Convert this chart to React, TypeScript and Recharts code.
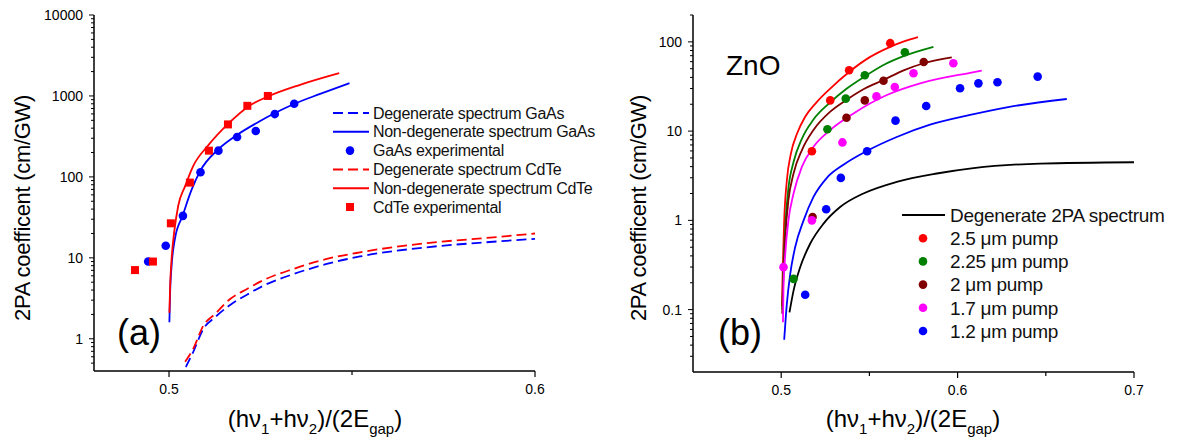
import React from 'react';
import { ComposedChart, Line, Scatter, XAxis, YAxis, Legend } from 'recharts';

type P = [number, number];
const pts = (a: P[]) => a.map(([x, y]) => ({ x, y }));

const FONT = '"Liberation Sans", Arial, Helvetica, sans-serif';

// ---------- Panel (a): GaAs / CdTe ----------
const gaasDegenerate: P[] = [
  [0.5046, 0.448], [0.5066, 0.686], [0.5094, 1.33], [0.5126, 1.85], [0.5167, 2.62],
  [0.5212, 3.48], [0.5258, 4.53], [0.534, 6.3], [0.5431, 8.4], [0.5522, 10.4],
  [0.5704, 13.5], [0.5886, 15.8], [0.6, 17.2],
];
const gaasNonDegenerate: P[] = [
  [0.5001, 1.6], [0.5003, 3.8], [0.5007, 8], [0.5016, 17], [0.5037, 33], [0.5062, 70],
  [0.5085, 118], [0.5135, 220], [0.5185, 328], [0.5249, 490], [0.5288, 610], [0.534, 790],
  [0.5413, 1060], [0.5493, 1440],
];
const gaasExperimental: P[] = [
  [0.4943, 9.0], [0.4991, 14.1], [0.5038, 33], [0.5086, 114], [0.5135, 211],
  [0.5186, 311], [0.5237, 369], [0.5289, 597], [0.5342, 800],
];
const cdteDegenerate: P[] = [
  [0.5044, 0.52], [0.5066, 0.75], [0.5094, 1.46], [0.5126, 2.03], [0.5167, 3.1],
  [0.5212, 4.1], [0.5258, 5.3], [0.534, 7.3], [0.5431, 9.7], [0.5522, 11.7],
  [0.5704, 15.2], [0.5886, 17.9], [0.6, 20],
];
const cdteNonDegenerate: P[] = [
  [0.5001, 2.1], [0.5003, 4.5], [0.5007, 9.7], [0.5014, 20.6], [0.5025, 43.7], [0.5044, 77],
  [0.5066, 136], [0.5107, 245], [0.5162, 455], [0.5217, 743], [0.5271, 987], [0.5358, 1374],
  [0.5465, 1915],
];
const cdteExperimental: P[] = [
  [0.4907, 7.06], [0.4956, 9.0], [0.5005, 26.7], [0.5057, 85], [0.5109, 211],
  [0.5161, 445], [0.5214, 755], [0.527, 1000],
];

// ---------- Panel (b): ZnO ----------
const znoDegenerate: P[] = [
  [0.5047, 0.093], [0.507, 0.163], [0.5108, 0.3], [0.5164, 0.547], [0.524, 0.92],
  [0.5334, 1.41], [0.5466, 2.0], [0.5655, 2.7], [0.5882, 3.35], [0.609, 3.85],
  [0.6467, 4.33], [0.7, 4.48],
];
const pump25Curve: P[] = [
  [0.5004, 0.11], [0.501, 0.35], [0.5017, 1.0], [0.5032, 2.8], [0.5055, 5.6], [0.509, 9.4],
  [0.5136, 14.5], [0.52, 21], [0.5278, 30], [0.5385, 46], [0.55, 67], [0.5618, 88],
  [0.57, 102], [0.5775, 113],
];
const pump25Points: P[] = [[0.5174, 5.96], [0.5278, 22.1], [0.5385, 48.1], [0.5618, 96.7]];
const pump225Curve: P[] = [
  [0.5006, 0.1], [0.5013, 0.3], [0.5023, 0.84], [0.5041, 2.3], [0.507, 4.5], [0.5117, 8.2],
  [0.5183, 13.5], [0.5278, 21], [0.5372, 30], [0.5474, 41], [0.558, 55], [0.5701, 70],
  [0.5863, 88],
];
const pump225Points: P[] = [[0.507, 0.221], [0.5262, 10.5], [0.5366, 23.1], [0.5474, 42.3], [0.5701, 76.6]];
const pump2Curve: P[] = [
  [0.5006, 0.09], [0.5013, 0.25], [0.5023, 0.65], [0.5041, 1.68], [0.507, 3.35], [0.5117, 6.1],
  [0.5183, 10.3], [0.5278, 16.5], [0.5372, 22.5], [0.5474, 30], [0.558, 37.4], [0.5694, 48],
  [0.5808, 57.6], [0.5967, 67],
];
const pump2Points: P[] = [[0.5178, 1.09], [0.537, 14.1], [0.5474, 22.1], [0.558, 36.7], [0.5808, 59.6]];
const pump17Curve: P[] = [
  [0.501, 0.072], [0.5013, 0.18], [0.5023, 0.42], [0.5041, 1.0], [0.507, 2.0], [0.5117, 3.97],
  [0.5183, 6.67], [0.5278, 10.3], [0.541, 15.8], [0.5599, 25.4], [0.5788, 34.3], [0.6071, 45],
  [0.6137, 47.6],
];
const pump17Points: P[] = [
  [0.5013, 0.299], [0.5174, 1.0], [0.5347, 7.47], [0.554, 24.5], [0.5644, 31.2], [0.575, 44.5], [0.5976, 57.6],
];
const pump12Curve: P[] = [
  [0.5017, 0.046], [0.5032, 0.116], [0.5051, 0.25], [0.5079, 0.5], [0.5127, 1.0], [0.5183, 1.83],
  [0.5259, 3.0], [0.5353, 4.2], [0.5486, 6.0], [0.5655, 8.6], [0.5844, 11.8], [0.6071, 15.2],
  [0.6279, 18.5], [0.6619, 22.9],
];
const pump12Points: P[] = [
  [0.5136, 0.147], [0.5255, 1.33], [0.5338, 2.99], [0.5487, 5.96], [0.5648, 13.1],
  [0.5822, 19.1], [0.6014, 30.2], [0.6118, 34.3], [0.6226, 35.3], [0.6454, 40.8],
];

// ---------- ticks & labels ----------
const leftYMajor = [1, 10, 100, 1000, 10000];
const rightYMajor = [0.1, 1, 10, 100];
const minorMultipliers = [2, 3, 4, 5, 6, 7, 8, 9];
const leftYTicks = [0.5, 0.6, 0.7, 0.8, 0.9, ...[1, 10, 100, 1000].flatMap(d => minorMultipliers.map(m => +(m * d).toPrecision(3))), ...leftYMajor].sort((a, b) => a - b);
const rightYTicks = [...[0.01, 0.1, 1, 10].flatMap(d => minorMultipliers.map(m => +(m * d).toPrecision(3))).filter(v => v > 0.025), 200, ...rightYMajor].sort((a, b) => a - b);
const leftXTicks = [0.5, 0.55, 0.6];
const leftXLabeled = [0.5, 0.6];
const rightXTicks = [0.5, 0.55, 0.6, 0.65, 0.7];
const rightXLabeled = [0.5, 0.6, 0.7];

const legendA = [
  { name: 'Degenerate spectrum GaAs', color: '#0000ff', kind: 'dash' },
  { name: 'Non-degenerate spectrum GaAs', color: '#0000ff', kind: 'line' },
  { name: 'GaAs experimental', color: '#0000ff', kind: 'circle' },
  { name: 'Degenerate spectrum CdTe', color: '#ff0000', kind: 'dash' },
  { name: 'Non-degenerate spectrum CdTe', color: '#ff0000', kind: 'line' },
  { name: 'CdTe experimental', color: '#ff0000', kind: 'square' },
];
const legendB = [
  { name: 'Degenerate 2PA spectrum', color: '#000000', kind: 'line' },
  { name: '2.5 μm pump', color: '#ff0000', kind: 'circle' },
  { name: '2.25 μm pump', color: '#008000', kind: 'circle' },
  { name: '2 μm pump', color: '#800000', kind: 'circle' },
  { name: '1.7 μm pump', color: '#ff00ff', kind: 'circle' },
  { name: '1.2 μm pump', color: '#0000ff', kind: 'circle' },
];

const TS = 5;
const TM = 5;

const makeYTick = (majors: number[]) => (props: any) => {
  const { x, y, payload } = props;
  const v = payload.value;
  const axisX = x + TS + TM;
  const isMajor = majors.some(m => Math.abs(m - v) / m < 1e-6);
  return (
    <g>
      <line x1={axisX - (isMajor ? 5 : 3)} x2={axisX} y1={y} y2={y} stroke="#000" strokeWidth={1} />
      {isMajor && (
        <text x={axisX - 11} y={y + 5} textAnchor="end" fontSize={14} fontFamily={FONT} fill="#000">
          {String(v)}
        </text>
      )}
    </g>
  );
};

const makeXTick = (labeled: number[]) => (props: any) => {
  const { x, y, payload } = props;
  const v = payload.value;
  const axisY = y - TS - TM;
  const lab = labeled.some(l => Math.abs(l - v) < 1e-9);
  return (
    <g>
      <line x1={x} x2={x} y1={axisY} y2={axisY + (lab ? 6 : 4)} stroke="#000" strokeWidth={1.2} />
      {lab && (
        <text x={x} y={axisY + 23} textAnchor="middle" fontSize={14} fontFamily={FONT} fill="#000">
          {String(v)}
        </text>
      )}
    </g>
  );
};

const circleShape = (color: string, r = 4.3) => (p: any) => <circle cx={p.cx} cy={p.cy} r={r} fill={color} />;
const squareShape = (color: string, s = 8) => (p: any) => (
  <rect x={p.cx - s / 2} y={p.cy - s / 2} width={s} height={s} fill={color} />
);

const LegendA = () => (
  <svg width={290} height={120} style={{ overflow: 'visible' }}>
    {legendA.map((it, i) => {
      const cy = 13 + i * 18.8;
      return (
        <g key={it.name}>
          {it.kind === 'dash' && <line x1={3} x2={39} y1={cy} y2={cy} stroke={it.color} strokeWidth={2} strokeDasharray="10 5" />}
          {it.kind === 'line' && <line x1={3} x2={39} y1={cy} y2={cy} stroke={it.color} strokeWidth={2} />}
          {it.kind === 'circle' && <circle cx={20} cy={cy} r={4.3} fill={it.color} />}
          {it.kind === 'square' && <rect x={16} y={cy - 4} width={8} height={8} fill={it.color} />}
          <text x={43} y={cy + 5.6} fontSize={16} letterSpacing={-0.3} fontFamily={FONT} fill="#111">{it.name}</text>
        </g>
      );
    })}
  </svg>
);

const LegendB = () => (
  <svg width={280} height={140} style={{ overflow: 'visible' }}>
    {legendB.map((it, i) => {
      const cy = 12 + i * 23.2;
      return (
        <g key={it.name}>
          {it.kind === 'line' && <line x1={2} x2={45} y1={cy} y2={cy} stroke={it.color} strokeWidth={2} />}
          {it.kind === 'circle' && <circle cx={23} cy={cy} r={4.3} fill={it.color} />}
          <text x={50} y={cy + 6.8} fontSize={19} letterSpacing={-0.3} fontFamily={FONT} fill="#111">{it.name}</text>
        </g>
      );
    })}
  </svg>
);

const lineProps = { type: 'monotone' as const, dot: false, activeDot: false, isAnimationActive: false, dataKey: 'y', strokeWidth: 1.8 };

const PanelA = () => (
  <ComposedChart width={560} height={447} margin={{ top: 15, right: 25, left: 34, bottom: 36 }}>
    <XAxis
      type="number" dataKey="x" domain={[0.4795, 0.6]} allowDataOverflow ticks={leftXTicks} interval={0}
      height={40} tickSize={TS} tickMargin={TM} tickLine={false} tick={makeXTick(leftXLabeled)}
      axisLine={{ stroke: '#000', strokeWidth: 1.5 }}
    />
    <YAxis
      type="number" dataKey="y" scale="log" domain={[0.4, 10000]} allowDataOverflow ticks={leftYTicks} interval={0}
      width={60} tickSize={TS} tickMargin={TM} tickLine={false} tick={makeYTick(leftYMajor)}
      axisLine={{ stroke: '#000', strokeWidth: 1.5 }}
    />
    <Legend
      layout="vertical" align="center" verticalAlign="middle"
      wrapperStyle={{ position: 'absolute', left: 330, top: 100, width: 290, height: 120 }}
      content={() => <LegendA />}
    />
    <Line {...lineProps} data={pts(gaasDegenerate)} stroke="#0000ff" strokeDasharray="10 5" name="Degenerate spectrum GaAs" />
    <Line {...lineProps} data={pts(gaasNonDegenerate)} stroke="#0000ff" name="Non-degenerate spectrum GaAs" />
    <Scatter data={pts(gaasExperimental)} dataKey="y" isAnimationActive={false} shape={circleShape('#0000ff')} name="GaAs experimental" />
    <Line {...lineProps} data={pts(cdteDegenerate)} stroke="#ff0000" strokeDasharray="10 5" name="Degenerate spectrum CdTe" />
    <Line {...lineProps} data={pts(cdteNonDegenerate)} stroke="#ff0000" name="Non-degenerate spectrum CdTe" />
    <Scatter data={pts(cdteExperimental)} dataKey="y" isAnimationActive={false} shape={squareShape('#ff0000')} name="CdTe experimental" />
  </ComposedChart>
);

const PanelB = () => (
  <ComposedChart width={577} height={447} margin={{ top: 15, right: 43, left: 33, bottom: 35 }}>
    <XAxis
      type="number" dataKey="x" domain={[0.45, 0.7]} allowDataOverflow ticks={rightXTicks} interval={0}
      height={40} tickSize={TS} tickMargin={TM} tickLine={false} tick={makeXTick(rightXLabeled)}
      axisLine={{ stroke: '#000', strokeWidth: 1.5 }}
    />
    <YAxis
      type="number" dataKey="y" scale="log" domain={[0.02, 200]} allowDataOverflow ticks={rightYTicks} interval={0}
      width={60} tickSize={TS} tickMargin={TM} tickLine={false} tick={makeYTick(rightYMajor)}
      axisLine={{ stroke: '#000', strokeWidth: 1.5 }}
    />
    <Legend
      layout="vertical" align="center" verticalAlign="middle"
      wrapperStyle={{ position: 'absolute', left: 300, top: 203, width: 280, height: 140 }}
      content={() => <LegendB />}
    />
    <Line {...lineProps} data={pts(znoDegenerate)} stroke="#000000" name="Degenerate 2PA spectrum" />
    <Line {...lineProps} data={pts(pump25Curve)} stroke="#ff0000" />
    <Line {...lineProps} data={pts(pump225Curve)} stroke="#008000" />
    <Line {...lineProps} data={pts(pump2Curve)} stroke="#800000" />
    <Line {...lineProps} data={pts(pump17Curve)} stroke="#ff00ff" />
    <Line {...lineProps} data={pts(pump12Curve)} stroke="#0000ff" />
    <Scatter data={pts(pump25Points)} dataKey="y" isAnimationActive={false} shape={circleShape('#ff0000')} />
    <Scatter data={pts(pump225Points)} dataKey="y" isAnimationActive={false} shape={circleShape('#008000')} />
    <Scatter data={pts(pump2Points)} dataKey="y" isAnimationActive={false} shape={circleShape('#800000')} />
    <Scatter data={pts(pump17Points)} dataKey="y" isAnimationActive={false} shape={circleShape('#ff00ff')} />
    <Scatter data={pts(pump12Points)} dataKey="y" isAnimationActive={false} shape={circleShape('#0000ff')} />
  </ComposedChart>
);

const XTitle = ({ cx }: { cx: number }) => (
  <text x={cx} y={427} textAnchor="middle" fontSize={24} fontFamily={FONT} fill="#000">
    {'(hν'}<tspan dy={7} fontSize={15}>1</tspan>
    <tspan dy={-7}>{'+hν'}</tspan>
    <tspan dy={7} fontSize={15}>2</tspan>
    <tspan dy={-7}>{')/(2E'}</tspan>
    <tspan dy={7} fontSize={15}>gap</tspan>
    <tspan dy={-7}>)</tspan>
  </text>
);

const YTitle = ({ cx }: { cx: number }) => (
  <text
    x={cx} y={208} textAnchor="middle" dominantBaseline="central" fontSize={22} letterSpacing={-0.3}
    fontFamily={FONT} fill="#000" transform={`rotate(-90 ${cx} 208)`}
  >
    2PA coefficent (cm/GW)
  </text>
);

export default function App() {
  return (
    <div style={{ position: 'absolute', left: 0, top: 0, width: 1177, height: 447, background: '#fff', overflow: 'hidden' }}>
      <div style={{ position: 'absolute', left: 0, top: 0 }}>
        <PanelA />
      </div>
      <div style={{ position: 'absolute', left: 600, top: 0 }}>
        <PanelB />
      </div>
      <svg width={1177} height={447} style={{ position: 'absolute', left: 0, top: 0, pointerEvents: 'none' }}>
        <YTitle cx={22} />
        <YTitle cx={638} />
        <XTitle cx={315} />
        <XTitle cx={913} />
        <text x={117} y={345} fontSize={36} fontFamily={FONT} fill="#000">(a)</text>
        <text x={718} y={345} fontSize={36} fontFamily={FONT} fill="#000">(b)</text>
        <text x={726} y={75} fontSize={28} fontFamily={FONT} fill="#000">ZnO</text>
      </svg>
    </div>
  );
}
